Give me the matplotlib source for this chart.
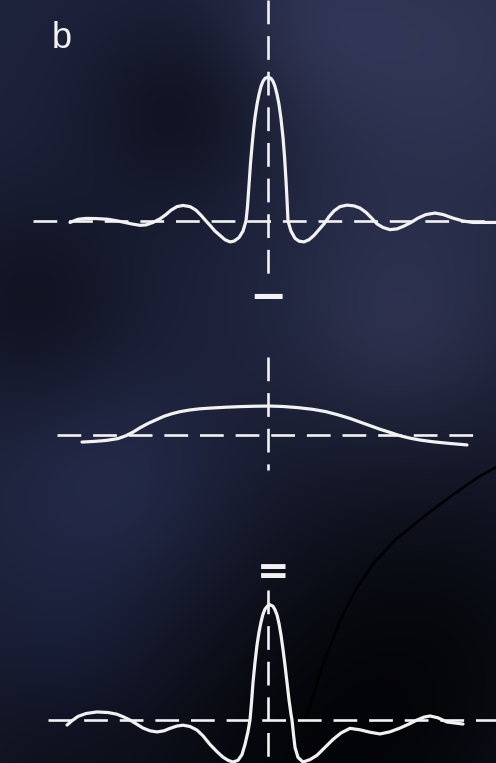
import numpy as np
import matplotlib.pyplot as plt

# --- traces (x: offset from the centre line, y: amplitude, top peak = 1) ---
top_x = [-1.98, -1.90, -1.82, -1.72, -1.60, -1.50, -1.42, -1.35, -1.28, -1.22,
         -1.15, -1.08, -1.02, -0.97, -0.91, -0.85, -0.78, -0.72, -0.67, -0.62,
         -0.58, -0.53, -0.48, -0.43, -0.38, -0.34, -0.29, -0.25, -0.22, -0.205,
         -0.19, -0.175, -0.16, -0.145, -0.13, -0.11, -0.09, -0.07, -0.05, -0.03,
         0.00, 0.03, 0.05, 0.07, 0.09, 0.11, 0.13, 0.15, 0.165, 0.18,
         0.19, 0.20, 0.23, 0.27, 0.31, 0.36, 0.41, 0.46, 0.51, 0.56,
         0.61, 0.66, 0.72, 0.79, 0.86, 0.92, 0.98, 1.03, 1.09, 1.15,
         1.22, 1.29, 1.36, 1.43, 1.50, 1.58, 1.67, 1.75, 1.85, 1.95,
         2.05, 2.28]
top_y = [-0.01, 0.012, 0.018, 0.017, 0.012, 0.0, -0.012, -0.022, -0.03, -0.027,
         -0.01, 0.015, 0.045, 0.075, 0.10, 0.108, 0.10, 0.075, 0.04, 0.0,
         -0.03, -0.07, -0.10, -0.13, -0.145, -0.14, -0.115, -0.07, 0.0, 0.10,
         0.25, 0.40, 0.52, 0.63, 0.72, 0.81, 0.88, 0.935, 0.97, 0.99,
         1.0, 0.99, 0.97, 0.935, 0.88, 0.81, 0.71, 0.58, 0.45, 0.28,
         0.15, 0.0, -0.07, -0.12, -0.14, -0.145, -0.13, -0.10, -0.06, -0.02,
         0.03, 0.07, 0.10, 0.11, 0.105, 0.09, 0.06, 0.025, -0.02, -0.045,
         -0.06, -0.055, -0.035, -0.01, 0.02, 0.045, 0.055, 0.045, 0.02, 0.0,
         -0.01, -0.01]

mid_x = [-1.86, -1.75, -1.62, -1.50, -1.42, -1.35, -1.28, -1.20, -1.12, -1.04,
         -0.96, -0.88, -0.78, -0.68, -0.55, -0.42, -0.28, -0.12, 0.02, 0.15,
         0.30, 0.45, 0.58, 0.70, 0.82, 0.92, 1.02, 1.12, 1.22, 1.32,
         1.42, 1.52, 1.65, 1.79, 1.99]
mid_y = [-0.049, -0.045, -0.038, -0.025, -0.005, 0.02, 0.05, 0.08, 0.105, 0.13,
         0.148, 0.162, 0.174, 0.182, 0.188, 0.193, 0.197, 0.200, 0.201, 0.198,
         0.19, 0.178, 0.162, 0.14, 0.115, 0.09, 0.065, 0.04, 0.018, -0.005,
         -0.022, -0.035, -0.047, -0.057, -0.069]

bot_x = [-2.01, -1.96, -1.90, -1.82, -1.71, -1.60, -1.51, -1.44, -1.38, -1.31,
         -1.25, -1.18, -1.11, -1.04, -0.98, -0.91, -0.85, -0.78, -0.71, -0.65,
         -0.58, -0.51, -0.45, -0.40, -0.35, -0.30, -0.26, -0.23, -0.20, -0.18,
         -0.165, -0.15, -0.13, -0.11, -0.09, -0.07, -0.05, -0.03, 0.00, 0.02,
         0.05, 0.07, 0.09, 0.11, 0.13, 0.15, 0.17, 0.19, 0.21, 0.23,
         0.24, 0.255, 0.27, 0.30, 0.35, 0.42, 0.49, 0.57, 0.65, 0.73,
         0.82, 0.92, 1.02, 1.12, 1.22, 1.32, 1.41, 1.49, 1.56, 1.62,
         1.70, 1.79, 1.95]
bot_y = [-0.035, -0.005, 0.025, 0.045, 0.056, 0.052, 0.04, 0.02, 0.0, -0.03,
         -0.056, -0.075, -0.083, -0.075, -0.058, -0.042, -0.036, -0.045, -0.07, -0.11,
         -0.17, -0.22, -0.258, -0.28, -0.292, -0.28, -0.24, -0.17, -0.08, 0.0,
         0.12, 0.26, 0.40, 0.52, 0.61, 0.68, 0.735, 0.77, 0.795, 0.80,
         0.79, 0.765, 0.73, 0.67, 0.59, 0.49, 0.38, 0.26, 0.14, 0.04,
         0.0, -0.10, -0.19, -0.26, -0.292, -0.275, -0.245, -0.19, -0.135, -0.09,
         -0.058, -0.068, -0.085, -0.097, -0.082, -0.056, -0.028, 0.0, 0.02, 0.028,
         0.015, -0.014, -0.028]

# extent of the dashed zero lines for each trace
base_span = [(-2.35, 2.28), (-2.11, 2.10), (-2.20, 2.28)]

# faint dark arc in the lower right
arc_x = [2.28, 2.10, 1.85, 1.60, 1.28, 1.05, 0.88, 0.75, 0.65, 0.55, 0.45, 0.38]
arc_y = [-1.71, -1.78, -1.90, -2.03, -2.21, -2.38, -2.56, -2.73, -2.90, -3.08, -3.30, -3.45]

# layout
W, H, DPI = 496, 763, 100
PX_X, PX_Y = 100.0, 144.0          # pixels per data unit
X0, Y0 = 268, 221                  # centre line / top baseline in pixels
offsets = [0.0, -(435 - Y0) / PX_Y, -(720 - Y0) / PX_Y]
xlim = (-X0 / PX_X, (W - X0) / PX_X)
ylim = (-(H - Y0) / PX_Y, Y0 / PX_Y)

fig = plt.figure(figsize=(W / DPI, H / DPI), dpi=DPI)
ax = fig.add_axes([0, 0, 1, 1])
ax.set_xlim(*xlim)
ax.set_ylim(*ylim)
ax.axis("off")

# mottled navy backdrop
gx, gy = np.meshgrid(np.arange(W), np.arange(H))
rgb = np.zeros((H, W, 3)) + np.array([30, 35, 60]) / 255
blobs = [
    (440, 50, 120, (18, 18, 24)),
    (400, 330, 80, (16, 16, 22)),
    (310, 20, 60, (8, 8, 12)),
    (120, 490, 80, (8, 10, 18)),
    (70, 650, 60, (2, 4, 10)),
    (180, 110, 70, (-14, -16, -26)),
    (30, 300, 80, (-13, -15, -25)),
    (440, 650, 170, (-20, -23, -40)),
    (250, 830, 160, (-16, -19, -32)),
    (10, 760, 90, (-8, -10, -18)),
]
for cx, cy, s, d in blobs:
    g = np.exp(-((gx - cx) ** 2 + (gy - cy) ** 2) / (2 * s ** 2))
    rgb += g[..., None] * np.array(d) / 255
rgb = np.clip(rgb, 0, 1)
ax.imshow(rgb, extent=(xlim[0], xlim[1], ylim[0], ylim[1]),
          aspect="auto", zorder=0, interpolation="bilinear")

ax.plot(arc_x, arc_y, color="#000000", lw=1.8, zorder=1)

ink = "#f2f2f2"
dash = dict(color=ink, lw=1.9, linestyle=(0, (9, 4.5)), zorder=2)

# dashed zero lines
for (a, b), off in zip(base_span, offsets):
    ax.plot([a, b], [off, off], **dash)

# dashed centre line, broken around the operator signs
for y_a, y_b in [(ylim[1], -0.40), (-0.944, -1.729), (-2.56, ylim[0])]:
    ax.plot([0, 0], [y_a, y_b], **dash)

# traces
for xs, ys, off in [(top_x, top_y, offsets[0]),
                    (mid_x, mid_y, offsets[1]),
                    (bot_x, bot_y, offsets[2])]:
    ax.plot(xs, np.array(ys) + off, color=ink, lw=2.3,
            solid_joinstyle="round", solid_capstyle="round", zorder=3)

# operator signs between the traces
ax.text(0.0, -0.50, "\u2212", color=ink, fontsize=32, ha="center",
        va="center_baseline", fontweight="bold", zorder=3)
ax.text(0.05, -2.42, "=", color=ink, fontsize=28, ha="center",
        va="center_baseline", fontweight="bold", zorder=3)

fig.text(52 / W, 1 - 48 / H, "b", color=ink, fontsize=26,
         family="Liberation Sans", ha="left", va="baseline")

fig.savefig("out.png", dpi=DPI)
